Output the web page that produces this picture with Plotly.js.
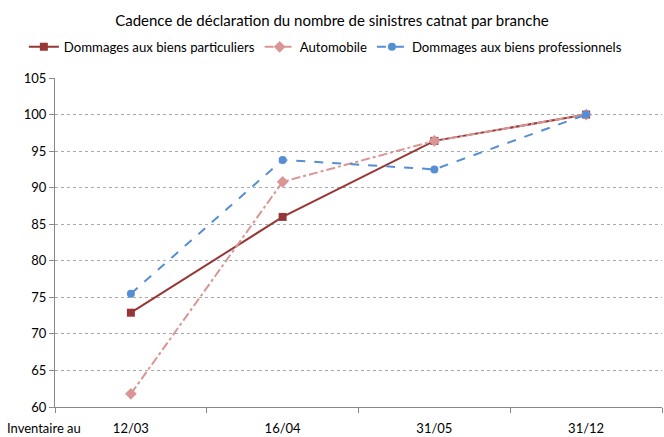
<!DOCTYPE html>
<html><head><meta charset="utf-8">
<script src="https://cdn.plot.ly/plotly-3.0.1.min.js"></script>
<style>body{margin:0;background:#fff}#c{width:664px;height:437px}</style>
</head><body><div id="c"></div>
<script>
const categories = ["12/03", "16/04", "31/05", "31/12"];
const particuliers = [72.9, 86.0, 96.4, 100];
const automobile = [61.8, 90.8, 96.4, 100];
const professionnels = [75.5, 93.8, 92.5, 100];
const yTicks = [60, 65, 70, 75, 80, 85, 90, 95, 100, 105];

const fontFam = "Lato, 'Open Sans', sans-serif";
const traces = [
  {x: categories, y: particuliers, name: "Dommages aux biens particuliers", type: "scatter", mode: "lines+markers",
   line: {color: "#953735", width: 2}, marker: {symbol: "square", size: 8, color: "#953735"}},
  {x: categories, y: automobile, name: "Automobile", type: "scatter", mode: "lines+markers",
   line: {color: "#D99694", width: 2, dash: "dashdot"}, marker: {symbol: "diamond", size: 9, color: "#D99694"}},
  {x: categories, y: professionnels, name: "Dommages aux biens professionnels", type: "scatter", mode: "lines+markers",
   line: {color: "#558ED5", width: 2, dash: "dash"}, marker: {symbol: "circle", size: 8, color: "#558ED5"}}
];
const layout = {
  width: 664, height: 437,
  margin: {l: 55, r: 2, t: 78, b: 30},
  paper_bgcolor: "#fff", plot_bgcolor: "#fff",
  font: {family: fontFam, size: 13, color: "#000"},
  title: {text: "Cadence de déclaration du nombre de sinistres catnat par branche", x: 0.5, xanchor: "center", y: 0.953, yanchor: "middle", font: {size: 15, family: fontFam}},
  showlegend: true,
  legend: {orientation: "h", xref: "container", yref: "container", x: 0.49, xanchor: "center", y: 0.892, yanchor: "middle", font: {size: 13.2}, itemwidth: 30, tracegroupgap: 0},
  xaxis: {type: "category", range: [-0.5, 3.5], showgrid: false, showline: true, linecolor: "#888", linewidth: 1,
    ticks: "outside", tickson: "boundaries", ticklen: 5, tickcolor: "#888", tickfont: {size: 13}, ticklabelstandoff: 9, zeroline: false},
  yaxis: {range: [60, 105], tickvals: yTicks, showgrid: true, gridcolor: "#aaa", griddash: "dot", gridwidth: 1,
    showline: true, linecolor: "#888", ticks: "outside", ticklen: 5, tickcolor: "#888", zeroline: false, tickfont: {size: 13}},
  annotations: [{text: "Inventaire au", xref: "paper", yref: "paper", x: -0.083, y: -0.064, xanchor: "left", yanchor: "middle", showarrow: false, font: {size: 13}}]
};
Plotly.newPlot("c", traces, layout, {staticPlot: true, displayModeBar: false});
</script></body></html>
